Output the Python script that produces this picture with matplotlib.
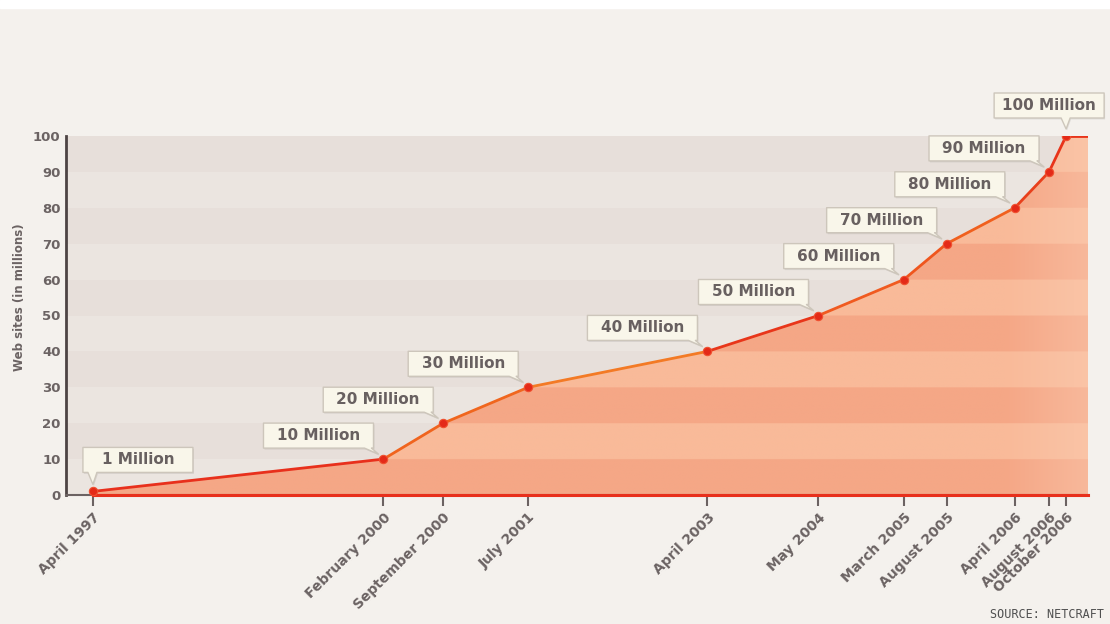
import numpy as np
import pandas as pd
import matplotlib
matplotlib.use("Agg")
import matplotlib.pyplot as plt
import matplotlib.dates as mdates
import matplotlib.transforms as mtransforms
from matplotlib.collections import LineCollection
from matplotlib.patches import Polygon, Rectangle

# Milestones: number of web sites (millions)
months = ['April 1997', 'February 2000', 'September 2000', 'July 2001',
          'April 2003', 'May 2004', 'March 2005', 'August 2005',
          'April 2006', 'August 2006', 'October 2006']
sites = [1, 10, 20, 30, 40, 50, 60, 70, 80, 90, 100]
callout_side = ['left'] + ['right'] * 9 + ['up']

dates = pd.to_datetime(months, format='%B %Y')
xd = mdates.date2num(dates)

TXT = '#6b6363'
BG = '#f4f1ed'

fig = plt.figure(figsize=(11.1, 6.24), dpi=100)
fig.patch.set_facecolor(BG)
fig.add_artist(Rectangle((0, 1 - 8 / 624), 1, 8 / 624, transform=fig.transFigure,
                         color='white', zorder=0))

ax = fig.add_axes([66 / 1110, 1 - 495 / 624, 1022 / 1110, 359 / 624])
xmin, xmax = xd[0] - 96, xd[-1] + 78
ax.set_xlim(xmin, xmax)
ax.set_ylim(0, 100)
ax.set_facecolor('#eae4df')

# striped background
for i, y0 in enumerate(range(0, 100, 10)):
    ax.axhspan(y0, y0 + 10, color='#e7dfda' if i % 2 else '#ebe5e0', lw=0, zorder=0)

# area under the curve: striped salmon gradient clipped to the curve
ny, nx = 500, 600
yy = np.linspace(0, 100, ny)[:, None]
xx = np.linspace(0, 1, nx)[None, :]
band = (np.floor(yy / 10) % 2 == 0)
dark = np.array([245, 167, 134]) / 255
light = np.array([249, 186, 153]) / 255
img = np.where(band[..., None], dark, light) * np.ones((ny, nx, 1))
fade = np.clip((xx - 0.92) / 0.08, 0, 1)[..., None] * 0.4
img = img * (1 - fade) + np.array([252, 210, 186]) / 255 * fade
im = ax.imshow(img, extent=[xmin, xmax, 0, 100], origin='lower', aspect='auto',
               zorder=1, interpolation='bilinear')
xs = np.append(xd, xmax)
ys = np.append(sites, sites[-1])
verts = list(zip(xs, ys)) + [(xmax, 0), (xd[0], 0)]
clip = Polygon(verts, closed=True, transform=ax.transData, facecolor='none',
               edgecolor='none')
ax.add_patch(clip)
im.set_clip_path(clip)

# the line, segment colours vary between red and orange
seg_colors = ['#e8301c', '#f0641e', '#f0661e', '#f37a25', '#e8361a', '#f05a20',
              '#ef561e', '#f0601e', '#e8401c', '#e8341a', '#e8341a']
segs = [[(xs[i], ys[i]), (xs[i + 1], ys[i + 1])] for i in range(len(xs) - 1)]
ax.add_collection(LineCollection(segs, colors=seg_colors, linewidths=2.0,
                                 zorder=3, capstyle='round'))
ax.plot([xd[0], xmax], [0, 0], color='#e8301c', lw=2.2, zorder=3, clip_on=False)
ax.plot(xd, sites, 'o', color='#e42a18', ms=6, mec='#f05030', mew=0.8, zorder=4)

# axes styling
for s in ['top', 'right']:
    ax.spines[s].set_visible(False)
ax.spines['left'].set_color('#4d4444')
ax.spines['left'].set_linewidth(2)
ax.spines['bottom'].set_color('#6b6262')
ax.spines['bottom'].set_linewidth(1.5)
ax.set_yticks(range(0, 101, 10))
ax.set_yticklabels([str(v) for v in range(0, 101, 10)], fontsize=9.5,
                   fontweight='bold', color=TXT)
ax.tick_params(axis='y', length=0, pad=4)
ax.set_xticks(xd)
ax.set_xticklabels(months, rotation=45, ha='right', rotation_mode='anchor',
                   fontsize=10, fontweight='bold', color=TXT)
ax.tick_params(axis='x', length=8, width=1.5, color='#6b6262', pad=3)

fig.text(20 / 1110, 1 - 297 / 624, 'Web sites (in millions)', rotation=90,
         ha='center', va='center', fontsize=8.5, fontweight='bold', color=TXT)
fig.text(990 / 1110, 1 - 615 / 624, 'SOURCE: NETCRAFT', family='DejaVu Sans Mono',
         fontsize=8.5, color='#505050', va='center', ha='left')


def callout(x, y, text, side):
    """Speech-bubble label drawn in pixel offsets from a data point."""
    trans = mtransforms.Affine2D() + mtransforms.ScaledTranslation(x, y, ax.transData)
    if side == 'left':
        L, R, B, T = -10, 100, 19, 44
        tail = [(L + 5, B), (0, 7), (L + 14, B)]
    elif side == 'up':
        L, R, B, T = -72, 38, 18, 43
        tail = [(-5, B), (0, 7), (4, B)]
    else:
        L, R, B, T = -120, -10, 11, 36
        tail = [(R - 9, B), (-5, 5), (R - 2, B)]
    pts = [(L, B)] + tail + [(R, B), (R, T), (L, T)]
    shadow = Polygon([(px + 1, py - 1.5) for px, py in pts], closed=True,
                     transform=trans, facecolor='#000000', alpha=0.08,
                     edgecolor='none', zorder=5, clip_on=False)
    box = Polygon(pts, closed=True, transform=trans, facecolor='#f9f6ea',
                  edgecolor='#cdc6bb', lw=1, zorder=6, clip_on=False,
                  joinstyle='round')
    ax.add_patch(shadow)
    ax.add_patch(box)
    ax.text((L + R) / 2, (B + T) / 2, text, transform=trans, ha='center',
            va='center', fontsize=11, fontweight='bold', color='#686060',
            zorder=7, clip_on=False)


for x, v, side in zip(xd, sites, callout_side):
    callout(x, v, f'{v} Million', side)

fig.savefig('out.png', dpi=100, facecolor=fig.get_facecolor())
